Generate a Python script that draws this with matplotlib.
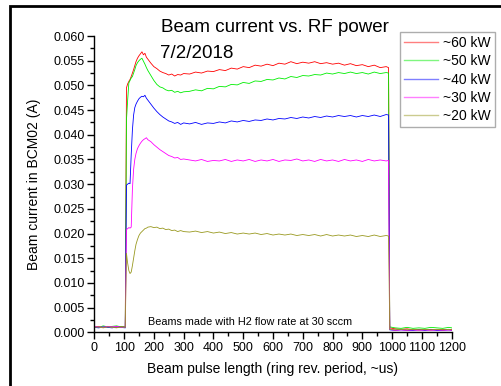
import numpy as np
import matplotlib.pyplot as plt
from matplotlib.patches import Rectangle
from matplotlib.ticker import MultipleLocator

plt.rcParams['font.family'] = ['Liberation Sans', 'DejaVu Sans']

# sample positions (ring rev. period)
x_pre = [0, 15, 30, 45, 60, 75, 90, 104]
x_front = [108, 112, 116, 120, 124, 128, 132, 136, 140, 145, 150, 155, 160, 165,
           170, 175, 180, 190, 200, 210, 220, 230, 240, 250, 260, 270, 280, 290, 300]
x_body = [320, 340, 360, 380, 400, 420, 440, 460, 480, 500, 520, 540, 560, 580,
          600, 620, 640, 660, 680, 700, 720, 740, 760, 780, 800, 820, 840, 860,
          880, 900, 920, 940, 960, 980, 988]
x_tail = [992, 1010, 1030, 1050, 1070, 1090, 1110, 1130, 1150, 1170, 1190, 1200]
x = x_pre + x_front + x_body + x_tail

kw60 = [0.0011, 0.0012, 0.0010, 0.0012, 0.0011, 0.0010, 0.0012, 0.0011,
        0.0495, 0.0503, 0.0508, 0.0512, 0.0518, 0.0525, 0.0532, 0.0540, 0.0548, 0.0555,
        0.0560, 0.0564, 0.0568, 0.0562, 0.0565, 0.0557, 0.0553, 0.0545, 0.0538, 0.0534,
        0.0529, 0.0526, 0.0524, 0.0521, 0.0523, 0.0519, 0.0522, 0.0521, 0.0524,
        0.0523, 0.0527, 0.0525, 0.0529, 0.0528, 0.0532, 0.0530, 0.0535, 0.0533, 0.0538,
        0.0536, 0.0541, 0.0539, 0.0543, 0.0540, 0.0545, 0.0543, 0.0548, 0.0544, 0.0547,
        0.0545, 0.0548, 0.0544, 0.0546, 0.0543, 0.0545, 0.0541, 0.0544, 0.0540, 0.0542,
        0.0538, 0.0541, 0.0536, 0.0538, 0.0536,
        0.0009, 0.0007, 0.0006, 0.0007, 0.0005, 0.0006, 0.0005, 0.0006, 0.0005, 0.0006,
        0.0005, 0.0006]

kw50 = [0.0012, 0.0010, 0.0013, 0.0011, 0.0012, 0.0013, 0.0011, 0.0012,
        0.0430, 0.0470, 0.0505, 0.0510, 0.0515, 0.0518, 0.0525, 0.0532, 0.0540, 0.0546,
        0.0550, 0.0553, 0.0555, 0.0549, 0.0543, 0.0536, 0.0530, 0.0520, 0.0510, 0.0502,
        0.0497, 0.0495, 0.0491, 0.0489, 0.0490, 0.0486, 0.0488, 0.0485, 0.0487,
        0.0488, 0.0491, 0.0489, 0.0494, 0.0493, 0.0498, 0.0497, 0.0502, 0.0501, 0.0506,
        0.0504, 0.0509, 0.0508, 0.0512, 0.0511, 0.0515, 0.0513, 0.0518, 0.0516, 0.0520,
        0.0519, 0.0522, 0.0521, 0.0525, 0.0523, 0.0526, 0.0524, 0.0527, 0.0524, 0.0526,
        0.0523, 0.0527, 0.0524, 0.0526, 0.0525,
        0.0011, 0.0009, 0.0008, 0.0010, 0.0008, 0.0009, 0.0008, 0.0010, 0.0009, 0.0008,
        0.0010, 0.0009]

kw40 = [0.0010, 0.0009, 0.0011, 0.0010, 0.0009, 0.0011, 0.0010, 0.0009,
        0.0298, 0.0300, 0.0302, 0.0301, 0.0360, 0.0410, 0.0440, 0.0455, 0.0462, 0.0468,
        0.0473, 0.0476, 0.0478, 0.0477, 0.0480, 0.0474, 0.0470, 0.0462, 0.0454, 0.0447,
        0.0441, 0.0436, 0.0432, 0.0428, 0.0426, 0.0423, 0.0425, 0.0421, 0.0424,
        0.0422, 0.0425, 0.0421, 0.0424, 0.0423, 0.0426, 0.0424, 0.0428, 0.0426, 0.0429,
        0.0427, 0.0430, 0.0429, 0.0432, 0.0430, 0.0433, 0.0432, 0.0435, 0.0433, 0.0436,
        0.0434, 0.0437, 0.0435, 0.0438, 0.0436, 0.0439, 0.0437, 0.0439, 0.0436, 0.0439,
        0.0437, 0.0440, 0.0437, 0.0441, 0.0440,
        0.0005, 0.0004, 0.0005, 0.0004, 0.0004, 0.0005, 0.0004, 0.0005, 0.0004, 0.0004,
        0.0005, 0.0004]

kw30 = [0.0012, 0.0011, 0.0010, 0.0012, 0.0011, 0.0012, 0.0010, 0.0011,
        0.0208, 0.0210, 0.0212, 0.0211, 0.0213, 0.0290, 0.0330, 0.0350, 0.0362, 0.0372,
        0.0378, 0.0383, 0.0387, 0.0390, 0.0392, 0.0394, 0.0390, 0.0386, 0.0380, 0.0375,
        0.0370, 0.0366, 0.0362, 0.0358, 0.0356, 0.0353, 0.0354, 0.0350, 0.0351,
        0.0349, 0.0347, 0.0350, 0.0346, 0.0348, 0.0347, 0.0350, 0.0346, 0.0349, 0.0347,
        0.0350, 0.0346, 0.0349, 0.0347, 0.0350, 0.0346, 0.0349, 0.0348, 0.0351, 0.0347,
        0.0349, 0.0346, 0.0350, 0.0347, 0.0349, 0.0346, 0.0350, 0.0347, 0.0349, 0.0346,
        0.0350, 0.0347, 0.0349, 0.0347, 0.0348,
        0.0006, 0.0004, 0.0005, 0.0004, 0.0005, 0.0004, 0.0005, 0.0004, 0.0005, 0.0004,
        0.0005, 0.0004]

kw20 = [0.0010, 0.0011, 0.0009, 0.0011, 0.0010, 0.0009, 0.0011, 0.0010,
        0.0160, 0.0140, 0.0125, 0.0119, 0.0122, 0.0135, 0.0150, 0.0165, 0.0178, 0.0188,
        0.0196, 0.0201, 0.0204, 0.0207, 0.0210, 0.0211, 0.0213, 0.0214, 0.0212, 0.0213,
        0.0210, 0.0211, 0.0208, 0.0209, 0.0206, 0.0207, 0.0204, 0.0206, 0.0204,
        0.0203, 0.0205, 0.0202, 0.0204, 0.0201, 0.0203, 0.0200, 0.0202, 0.0199, 0.0201,
        0.0199, 0.0201, 0.0198, 0.0200, 0.0197, 0.0199, 0.0197, 0.0199, 0.0196, 0.0198,
        0.0196, 0.0198, 0.0195, 0.0198, 0.0195, 0.0197, 0.0195, 0.0197, 0.0194, 0.0196,
        0.0194, 0.0197, 0.0194, 0.0196, 0.0195,
        0.0006, 0.0005, 0.0006, 0.0005, 0.0006, 0.0005, 0.0006, 0.0005, 0.0006, 0.0005,
        0.0006, 0.0005]

labels = ['~60 kW', '~50 kW', '~40 kW', '~30 kW', '~20 kW']
series = [kw60, kw50, kw40, kw30, kw20]
colors = ['#ff0000', '#00ee00', '#0000ff', '#ff00ff', '#999920']

fig = plt.figure(figsize=(5.01, 3.86), dpi=100)
ax = fig.add_axes([0.1882, 0.1391, 0.7134, 0.7676])

for y, lab, c in zip(series, labels, colors):
    ax.plot(x, y, color=c, lw=0.6, label=lab)

ax.set_xlim(0, 1200)
ax.set_ylim(0, 0.060)
ax.xaxis.set_major_locator(MultipleLocator(100))
ax.xaxis.set_minor_locator(MultipleLocator(50))
ax.yaxis.set_major_locator(MultipleLocator(0.005))
ax.yaxis.set_minor_locator(MultipleLocator(0.0025))
ax.yaxis.set_major_formatter(plt.FormatStrFormatter('%.3f'))
ax.tick_params(which='major', direction='out', length=5, width=1, labelsize=9, pad=2)
ax.tick_params(which='minor', direction='out', length=3, width=1)
for s in ['top', 'right']:
    ax.spines[s].set_visible(False)
for s in ['left', 'bottom']:
    ax.spines[s].set_linewidth(1)

ax.set_xlabel('Beam pulse length (ring rev. period, ~us)', fontsize=10, labelpad=6)
ax.set_ylabel('Beam current in BCM02 (A)', fontsize=10, labelpad=9)

fig.text(0.548, 0.928, 'Beam current vs. RF power', fontsize=13.5, ha='center', va='center')
fig.text(0.392, 0.862, '7/2/2018', fontsize=13.5, ha='center', va='center')
ax.text(0.435, 0.035, 'Beams made with H2 flow rate at 30 sccm', transform=ax.transAxes,
        fontsize=7.8, ha='center', va='center')

leg = ax.legend(loc='upper right', bbox_to_anchor=(495 / 501, 1 - 32 / 386),
                bbox_transform=fig.transFigure, fontsize=10, frameon=True,
                fancybox=False, handlelength=2.4, handletextpad=0.4,
                labelspacing=0.3, borderpad=0.3, borderaxespad=0)
leg.get_frame().set_edgecolor('#999999')
leg.get_frame().set_linewidth(1)
for l in leg.get_lines():
    l.set_linewidth(1)
    l.set_alpha(0.5)

# black frame around the figure
fig.patches.append(Rectangle((10 / 501, -0.1), 1.0, 1.1 - 6 / 386, transform=fig.transFigure,
                             fill=False, edgecolor='black', lw=2))

fig.savefig('out.png', dpi=100)
